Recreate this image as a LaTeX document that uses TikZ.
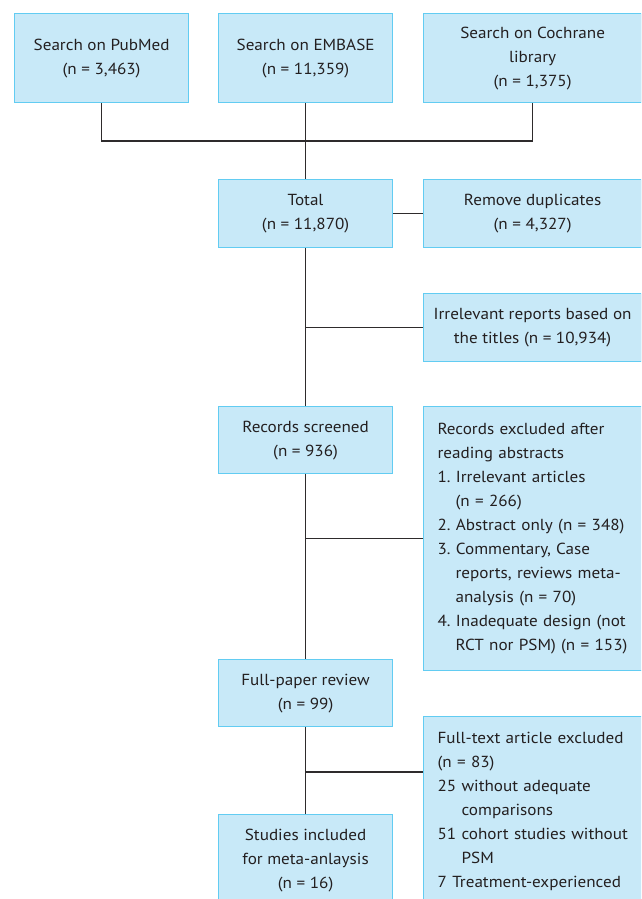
\documentclass[tikz,border=0pt]{standalone}
\usepackage{fontspec}
\setmainfont[FakeStretch=1.07]{PT Sans}
\definecolor{boxfill}{HTML}{C8E9F8}
\definecolor{boxline}{HTML}{62CCF2}
\definecolor{txt}{HTML}{231F20}
\definecolor{conn}{HTML}{2E2B2C}
\begin{document}
\begin{tikzpicture}[x=1pt,y=-1pt,
  box/.style={draw=boxline,fill=boxfill,line width=1.2pt,text=txt,inner sep=0pt,
    font=\fontsize{16}{24}\selectfont\frenchspacing,align=center,anchor=north west},
  lbox/.style={box,align=left,text width=191pt,inner xsep=14pt},
  link/.style={draw=conn,line width=1.3pt}]
\useasboundingbox (0,0) rectangle (641,899);
\clip (0,0) rectangle (641,899);
\fill[white] (0,0) rectangle (641,899);
% top row
\node[box,minimum width=174pt,minimum height=89pt] (pub) at (14,13) {Search on PubMed\\(n = 3,463)};
\node[box,minimum width=174pt,minimum height=89pt] (emb) at (218,13) {Search on EMBASE\\(n = 11,359)};
\node[box,minimum width=218pt,minimum height=89pt] (coch) at (423,13) {Search on Cochrane\\library\\(n = 1,375)};
% centre column
\node[box,minimum width=174pt,minimum height=68pt] (tot) at (218,179) {Total\\(n = 11,870)};
\node[box,minimum width=218pt,minimum height=68pt] (dup) at (423,179) {Remove duplicates\\(n = 4,327)};
\node[box,minimum width=218pt,minimum height=68pt] (irr) at (423,293) {Irrelevant reports based on\\the titles (n = 10,934)};
\node[box,minimum width=174pt,minimum height=67pt] (rs) at (218,406) {Records screened\\(n = 936)};
\node[lbox,minimum width=218pt,minimum height=264pt] (rex) at (423,406) {Records excluded after\\reading abstracts\\1. Irrelevant articles\\\hspace*{18pt}(n = 266)\\2. Abstract only (n = 348)\\3. Commentary, Case\\\hspace*{18pt}reports, reviews meta-\\\hspace*{18pt}analysis (n = 70)\\4. Inadequate design (not\\\hspace*{18pt}RCT nor PSM) (n = 153)};
\node[box,minimum width=174pt,minimum height=67pt] (fp) at (218,659) {Full-paper review\\(n = 99)};
\node[lbox,minimum width=218pt,minimum height=190pt] (fx) at (423,716) {Full-text article excluded\\(n = 83)\\25 without adequate\\\hspace*{24pt}comparisons\\51 cohort studies without\\\hspace*{24pt}PSM\\7 Treatment-experienced};
\node[box,minimum width=174pt,minimum height=92pt] (si) at (218,814) {Studies included\\for meta-anlaysis\\(n = 16)};
% connectors
\coordinate (j1) at (emb.south |- 0,141);
\coordinate (j2) at (tot.south |- irr.west);
\coordinate (j3) at (tot.south |- rex.west);
\coordinate (j4) at (tot.south |- 0,772);
\draw[link] (pub.south) |- (j1) -| (coch.south);
\draw[link] (emb.south) -- (tot.north);
\draw[link] (tot.east) -- (dup.west);
\draw[link] (tot.south) -- (rs.north);
\draw[link] (j2) -- (irr.west);
\draw[link] (rs.south) -- (fp.north);
\draw[link] (j3) -- (rex.west);
\draw[link] (fp.south) -- (si.north);
\draw[link] (j4) -- (j4 -| fx.west);
\end{tikzpicture}
\end{document}
